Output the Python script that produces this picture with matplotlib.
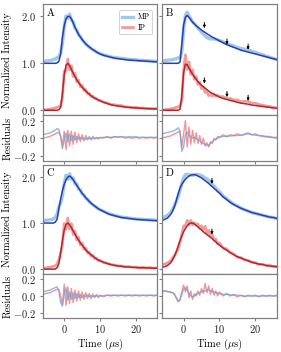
import numpy as np
import matplotlib
matplotlib.use("Agg")
import matplotlib.pyplot as plt
from matplotlib import gridspec
from matplotlib.ticker import FuncFormatter

plt.rcParams.update({
    "font.family": "serif", "font.serif": ["cmr10"], "mathtext.fontset": "cm",
    "axes.formatter.use_mathtext": True, "font.size": 7.5,
    "axes.edgecolor": "#808080", "axes.linewidth": 0.9,
    "xtick.direction": "out", "ytick.direction": "out",
    "xtick.major.size": 2.5, "ytick.major.size": 2.5,
    "xtick.major.width": 0.8, "ytick.major.width": 0.8,
    "xtick.major.pad": 1.5, "ytick.major.pad": 2.5,
    "xtick.color": "#808080", "ytick.color": "#808080",
    "xtick.labelcolor": "#222222", "ytick.labelcolor": "#222222",
})

COL_MP_DATA = "#8dc0e8"; COL_MP_FIT = "#2a3db4"
COL_IP_DATA = "#f08a8a"; COL_IP_FIT = "#b3262c"
COL_MP_RES = "#6f9fd8"
OFFSET = 1.0

# time axis (us)
T = [-6, -5.5, -5, -4.5, -4, -3.5, -3, -2.5, -2,
     -1.5, -1, -0.5, 0, 0.5, 1, 1.5, 2, 2.5, 3, 3.5, 4, 4.5, 5, 5.5, 6,
     6.5, 7, 7.5, 8, 8.5, 9, 9.5, 10,
     11, 12, 13, 14, 15, 16, 17, 18, 19, 20, 21, 22, 23, 24, 25, 26]

# ---- panel A ----
A_MP_FIT = [0, 0, 0, 0, 0, 0, 0, 0, 0.01,
            0.04, 0.2, 0.55, 0.8, 0.95, 1.0, 1.0, 0.95, 0.86, 0.77, 0.69, 0.62, 0.56, 0.51, 0.46, 0.42,
            0.38, 0.35, 0.32, 0.29, 0.27, 0.24, 0.22, 0.2,
            0.17, 0.15, 0.13, 0.11, 0.1, 0.09, 0.08, 0.07, 0.065, 0.06, 0.055, 0.05, 0.045, 0.04, 0.035, 0.03]
A_MP_RES = [0.04, 0.045, 0.05, 0.055, 0.06, 0.07, 0.08, 0.09, 0.11,
            0.1, 0.02, -0.12, -0.02, 0.06, -0.04, 0.05, -0.03, 0.03, -0.02, 0.02, -0.01, 0.01, -0.01, 0.0, -0.01,
            0.0, -0.005, 0.0, -0.005, 0.0, 0.0, 0.005, 0.005,
            0.01, 0.01, 0.01, 0.015, 0.015, 0.015, 0.015, 0.015, 0.015, 0.015, 0.01, 0.01, 0.01, 0.01, 0.01, 0.01]
A_IP_FIT = [0, 0, 0, 0, 0, 0, 0, 0, 0,
            0.01, 0.06, 0.35, 0.75, 0.96, 1.0, 0.95, 0.87, 0.79, 0.72, 0.65, 0.59, 0.54, 0.49, 0.45, 0.41,
            0.37, 0.34, 0.31, 0.28, 0.26, 0.24, 0.22, 0.2,
            0.17, 0.14, 0.12, 0.1, 0.09, 0.08, 0.07, 0.06, 0.055, 0.05, 0.045, 0.04, 0.035, 0.03, 0.03, 0.025]
A_IP_RES = [0.0, 0.005, 0.01, 0.015, 0.02, 0.03, 0.04, 0.05, 0.06,
            0.07, 0.02, -0.08, 0.08, -0.13, 0.09, -0.09, 0.08, -0.07, 0.07, -0.05, 0.05, -0.04, 0.04, -0.03, 0.03,
            -0.02, 0.02, -0.02, 0.02, -0.01, 0.01, -0.01, 0.01,
            0.0, 0.02, 0.0, 0.02, 0.01, 0.02, 0.0, 0.01, 0.0, 0.01, 0.0, 0.01, 0.0, 0.01, 0.0, 0.01]

# ---- panel B ----
B_MP_FIT = [0, 0, 0, 0, 0, 0, 0, 0, 0,
            0.0, 0.03, 0.4, 0.82, 0.98, 1.02, 0.98, 0.93, 0.88, 0.84, 0.8, 0.77, 0.74, 0.71, 0.68, 0.66,
            0.63, 0.61, 0.58, 0.56, 0.54, 0.52, 0.5, 0.48,
            0.44, 0.4, 0.37, 0.34, 0.31, 0.28, 0.26, 0.24, 0.22, 0.2, 0.18, 0.16, 0.14, 0.12, 0.1, 0.08]
B_MP_RES = [0.05, 0.055, 0.06, 0.065, 0.07, 0.075, 0.08, 0.09, 0.1,
            0.12, 0.08, -0.15, -0.1, 0.04, 0.07, 0.03, 0.02, 0.0, 0.01, 0.0, -0.02, -0.03, -0.05, -0.06, -0.07,
            -0.08, -0.08, -0.06, -0.04, -0.02, -0.01, 0.0, 0.01,
            0.02, 0.02, 0.025, 0.03, 0.03, 0.035, 0.04, 0.05, 0.04, 0.035, 0.03, 0.02, 0.015, 0.01, 0.005, 0.0]
B_IP_FIT = [0, 0, 0, 0, 0, 0, 0, 0, 0,
            0.0, 0.02, 0.3, 0.8, 0.98, 0.97, 0.9, 0.83, 0.77, 0.71, 0.66, 0.61, 0.57, 0.53, 0.5, 0.47,
            0.44, 0.41, 0.38, 0.36, 0.34, 0.32, 0.3, 0.28,
            0.25, 0.23, 0.21, 0.19, 0.17, 0.15, 0.14, 0.13, 0.11, 0.1, 0.09, 0.08, 0.07, 0.06, 0.05, 0.04]
B_IP_RES = [0.0, 0.01, 0.01, 0.02, 0.02, 0.03, 0.04, 0.05, 0.06,
            0.07, 0.08, -0.1, 0.05, 0.2, -0.1, 0.13, -0.07, 0.09, -0.05, 0.06, -0.06, 0.03, -0.07, 0.0, -0.09,
            -0.05, -0.1, -0.04, -0.06, 0.0, -0.02, 0.02, 0.01,
            0.04, 0.02, 0.04, 0.03, 0.05, 0.03, 0.05, 0.06, 0.04, 0.05, 0.03, 0.03, 0.02, 0.02, 0.01, 0.01]

# ---- panel C ----
C_MP_FIT = [0, 0, 0, 0, 0, 0, 0, 0.02, 0.08,
            0.3, 0.52, 0.7, 0.84, 0.94, 1.0, 1.02, 0.99, 0.94, 0.88, 0.82, 0.76, 0.7, 0.65, 0.6, 0.55,
            0.51, 0.47, 0.43, 0.4, 0.37, 0.34, 0.31, 0.29,
            0.25, 0.21, 0.18, 0.16, 0.14, 0.12, 0.11, 0.1, 0.09, 0.08, 0.075, 0.07, 0.065, 0.06, 0.055, 0.05]
C_MP_RES = [0.05, 0.055, 0.06, 0.065, 0.07, 0.08, 0.09, 0.1, 0.11,
            0.06, -0.08, -0.12, 0.02, 0.1, -0.05, 0.05, -0.04, 0.04, -0.03, 0.03, -0.02, 0.02, -0.02, 0.01, -0.01,
            0.01, -0.01, 0.005, -0.005, 0.0, 0.0, 0.0, 0.0,
            0.005, 0.01, 0.01, 0.01, 0.01, 0.01, 0.01, 0.01, 0.01, 0.01, 0.01, 0.01, 0.01, 0.01, 0.01, 0.01]
C_IP_FIT = [0, 0, 0, 0, 0, 0, 0, 0, 0.03,
            0.12, 0.35, 0.62, 0.85, 0.97, 1.0, 0.96, 0.9, 0.83, 0.76, 0.69, 0.63, 0.57, 0.52, 0.47, 0.42,
            0.38, 0.34, 0.31, 0.28, 0.25, 0.22, 0.2, 0.18,
            0.15, 0.12, 0.1, 0.08, 0.07, 0.06, 0.05, 0.045, 0.04, 0.035, 0.03, 0.03, 0.025, 0.025, 0.02, 0.02]
C_IP_RES = [0.02, 0.025, 0.03, 0.035, 0.04, 0.05, 0.06, 0.07, 0.08,
            0.08, 0.0, -0.1, 0.14, -0.11, 0.11, -0.09, 0.09, -0.08, 0.07, -0.06, 0.06, -0.05, 0.05, -0.04, 0.04,
            -0.03, 0.03, -0.03, 0.02, -0.02, 0.02, -0.02, 0.01,
            -0.01, 0.01, 0.0, 0.01, 0.0, 0.01, 0.0, 0.01, 0.0, 0.01, 0.0, 0.01, 0.0, 0.01, 0.0, 0.01]

# ---- panel D ----
D_MP_FIT = [0.06, 0.07, 0.09, 0.11, 0.15, 0.2, 0.27, 0.37, 0.5,
            0.64, 0.76, 0.84, 0.9, 0.95, 0.99, 1.02, 1.04, 1.05, 1.05, 1.04, 1.02, 1.0, 0.98, 0.95, 0.92,
            0.89, 0.86, 0.82, 0.79, 0.75, 0.72, 0.68, 0.65,
            0.57, 0.51, 0.45, 0.4, 0.36, 0.32, 0.29, 0.26, 0.23, 0.21, 0.19, 0.17, 0.15, 0.13, 0.12, 0.1]
D_MP_RES = [0.06, 0.06, 0.06, 0.055, 0.05, 0.045, 0.04, 0.02, -0.02,
            -0.06, -0.05, 0.02, 0.08, 0.1, 0.07, 0.03, 0.0, -0.01, 0.0, 0.02, 0.03, 0.04, 0.05, 0.06, 0.06,
            0.07, 0.07, 0.06, 0.05, 0.05, 0.04, 0.035, 0.03,
            0.02, 0.02, 0.015, 0.01, 0.01, 0.005, 0, 0, 0, 0, 0, 0, 0, 0, 0, 0]
D_IP_FIT = [0.04, 0.05, 0.06, 0.08, 0.11, 0.15, 0.21, 0.29, 0.39,
            0.51, 0.62, 0.72, 0.81, 0.88, 0.94, 0.98, 1.0, 1.0, 0.98, 0.95, 0.92, 0.88, 0.85, 0.81, 0.78,
            0.75, 0.72, 0.69, 0.66, 0.62, 0.59, 0.55, 0.52,
            0.46, 0.41, 0.36, 0.31, 0.27, 0.24, 0.21, 0.18, 0.15, 0.13, 0.11, 0.1, 0.08, 0.07, 0.06, 0.05]
D_IP_RES = [0.06, 0.055, 0.06, 0.05, 0.05, 0.04, 0.04, 0.01, -0.03,
            -0.07, -0.04, 0.05, 0.13, 0.05, 0.12, -0.02, 0.06, -0.04, 0.03, 0.0, 0.06, 0.01, 0.09, 0.03, 0.15,
            0.04, 0.12, 0.02, 0.09, 0.01, 0.06, 0.0, 0.05,
            0.0, 0.03, 0.0, 0.02, -0.01, 0.01, -0.01, 0.01, 0.0, 0.01, -0.01, 0.01, 0.0, 0.01, 0.0, 0.01]

# arrow marks (time, arrow-tip height on plotted scale)
B_ARROW_T = [5.8, 12.1, 18.0]
B_ARROW_MP = [1.75, 1.40, 1.29]
B_ARROW_IP = [0.57, 0.28, 0.20]
D_ARROW_T = [7.9]
D_ARROW_MP = [1.85]
D_ARROW_IP = [0.75]

fmt1 = FuncFormatter(lambda v, p: f"${v:.1f}$")
fmt0 = FuncFormatter(lambda v, p: f"${v:.0f}$")


def arrows(ax, ts, ys):
    for t, y in zip(ts, ys):
        ax.annotate("", xy=(t, y), xytext=(t, y + 0.12),
                    arrowprops=dict(arrowstyle="-|>", color="black", lw=0.7,
                                    mutation_scale=3.5, shrinkA=0, shrinkB=0))


fig = plt.figure(figsize=(2.81, 3.52), dpi=100)
gs = gridspec.GridSpec(5, 2, height_ratios=[112, 46, 4, 110, 44], hspace=0, wspace=0.041,
                       left=0.152, right=0.985, top=0.988, bottom=0.097)

panels = [("A", 0, 0, A_MP_FIT, A_IP_FIT, A_MP_RES, A_IP_RES),
          ("B", 0, 1, B_MP_FIT, B_IP_FIT, B_MP_RES, B_IP_RES),
          ("C", 3, 0, C_MP_FIT, C_IP_FIT, C_MP_RES, C_IP_RES),
          ("D", 3, 1, D_MP_FIT, D_IP_FIT, D_MP_RES, D_IP_RES)]

t = np.array(T)
for lab, r, c, mpf, ipf, mpr, ipr in panels:
    mpf = np.array(mpf); ipf = np.array(ipf)
    mpr = np.array(mpr); ipr = np.array(ipr)
    ax = fig.add_subplot(gs[r, c])
    axr = fig.add_subplot(gs[r + 1, c], sharex=ax)

    # measured traces (fit + residual), fits on top
    ax.plot(t, mpf + mpr + OFFSET, color=COL_MP_DATA, lw=2.4, alpha=0.85, label="MP")
    ax.plot(t, ipf + ipr, color=COL_IP_DATA, lw=2.0, alpha=0.85, label="IP")
    ax.plot(t, mpf + OFFSET, color=COL_MP_FIT, lw=1.1)
    ax.plot(t, ipf, color=COL_IP_FIT, lw=1.1)
    axr.plot(t, ipr, color=COL_IP_DATA, lw=1.0, alpha=0.9)
    axr.plot(t, mpr, color=COL_MP_RES, lw=1.0, alpha=0.75)

    ax.set_xlim(-6, 26); ax.set_ylim(-0.11, 2.26)
    ax.set_yticks([0, 1, 2]); axr.set_yticks([-0.2, 0, 0.2]); axr.set_ylim(-0.26, 0.26)
    ax.set_xticks([0, 10, 20])
    ax.tick_params(labelbottom=False)
    ax.text(0.035, 0.965, lab, transform=ax.transAxes, ha="left", va="top", fontsize=7.5)

    if c == 0:
        ax.yaxis.set_major_formatter(fmt1); axr.yaxis.set_major_formatter(fmt1)
        ax.set_ylabel("Normalized Intensity")
        axr.set_ylabel("Residuals")
        ax.yaxis.set_label_coords(-0.265, 0.5); axr.yaxis.set_label_coords(-0.265, 0.5)
    else:
        ax.tick_params(labelleft=False); axr.tick_params(labelleft=False)

    if r == 3:
        axr.xaxis.set_major_formatter(fmt0)
        axr.set_xlabel(r"Time ($\mu$s)")
        axr.xaxis.set_label_coords(0.5, -0.43)
    else:
        axr.tick_params(labelbottom=False)

    if lab == "A":
        leg = ax.legend(loc="upper right", fontsize=5.5, handlelength=1.5, borderpad=0.35,
                        labelspacing=0.25, handletextpad=0.6, framealpha=1,
                        bbox_to_anchor=(0.99, 0.98))
        leg.get_frame().set_edgecolor("#cccccc"); leg.get_frame().set_linewidth(0.6)
    if lab == "B":
        arrows(ax, B_ARROW_T, B_ARROW_MP); arrows(ax, B_ARROW_T, B_ARROW_IP)
    if lab == "D":
        arrows(ax, D_ARROW_T, D_ARROW_MP); arrows(ax, D_ARROW_T, D_ARROW_IP)

fig.savefig("out.png", dpi=100)
